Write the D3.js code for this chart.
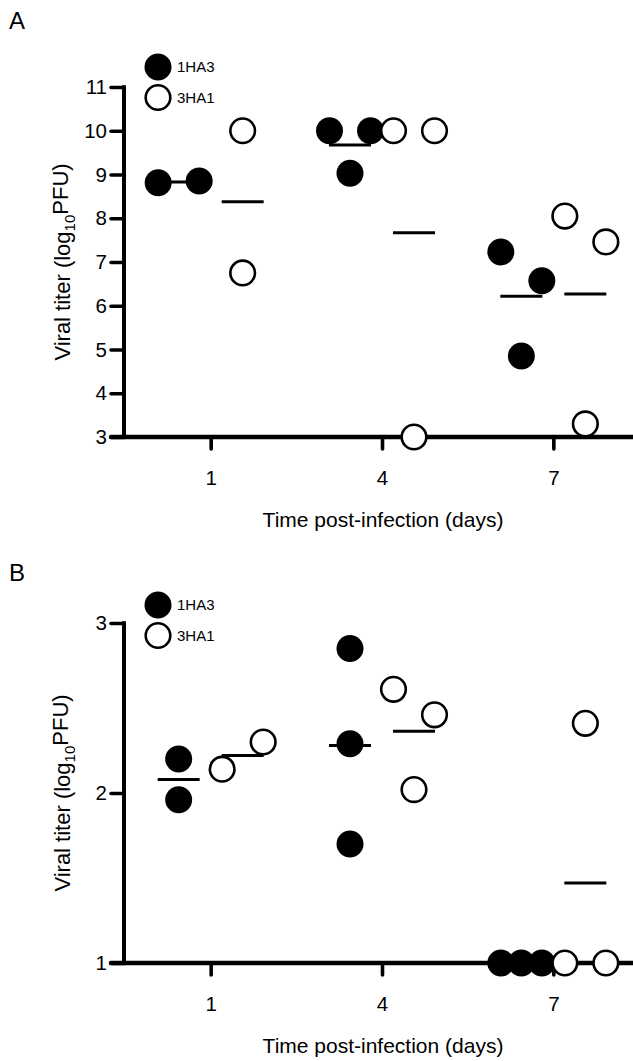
<!DOCTYPE html>
<html>
<head>
<meta charset="utf-8">
<script src="https://cdn.jsdelivr.net/npm/d3@7"></script>
<style>
    body { margin: 0; background: #fff; }
    svg { display: block; font-family: "Liberation Sans", Arial, sans-serif; }
</style>
</head>
<body>
<svg id="chart" width="633" height="1061"></svg>
<script>
let days = [1, 4, 7];
let seriesNames = ["1HA3", "3HA1"];

// panel A, one inner list per day
let titerA_1HA3 = [[8.81, 8.85], [10.0, 10.0, 9.03], [7.23, 6.57, 4.85]];
let titerA_3HA1 = [[10.0, 6.75], [10.0, 10.0, 3.0], [8.05, 7.46, 3.3]];
let ticksA = [3, 4, 5, 6, 7, 8, 9, 10, 11];

// panel B
let titerB_1HA3 = [[2.20, 1.96], [2.85, 2.29, 1.70], [1.0, 1.0, 1.0]];
let titerB_3HA1 = [[2.14, 2.30], [2.61, 2.46, 2.02], [1.0, 1.0, 2.41]];
let ticksB = [1, 2, 3];

let svg = d3.select('#chart');

let rFilled = 13.5;
let rOpen = 12.3;
let spread = 20.5;

// spread points sideways when they sit too close vertically
let placePoints = (values, yScale) => {
    let pts = values.map((v, i) => ({v: v, i: i, y: yScale(v), dx: 0}));
    let sorted = pts.slice().sort((a, b) => a.y - b.y);
    let groups = [];
    sorted.forEach(p => {
        let last = groups[groups.length - 1];
        if (last && p.y - last[last.length - 1].y < rFilled * 2.4) last.push(p);
        else groups.push([p]);
    });
    groups.forEach(g => {
        g.sort((a, b) => a.i - b.i);
        let step = g.length % 2 === 0 ? spread * 2 : spread;
        g.forEach((p, k) => { p.dx = (k - (g.length - 1) / 2) * step; });
    });
    return pts;
};

let drawPanel = (cfg) => {
    let g = svg.append("g");

    let xScale = d3.scalePoint().domain(days).range([125, 639]).padding(0.5);
    let groupScale = d3.scalePoint().domain(seriesNames).range([-32, 32]);
    let yScale = d3.scaleLinear().domain(cfg.domain).range([cfg.bottom, cfg.top]);

    // axes
    let xAxis = d3.axisBottom(xScale).tickSizeInner(12).tickSizeOuter(0).tickPadding(21);
    let yAxis = d3.axisLeft(yScale).tickValues(cfg.ticks).tickSizeInner(14).tickSizeOuter(0).tickPadding(4)
        .tickFormat(d3.format("d"));

    let gx = g.append("g")
        .attr("transform", "translate(" + [0, cfg.bottom] + ")")
        .call(xAxis);
    let gy = g.append("g")
        .attr("transform", "translate(" + [125, 0] + ")")
        .call(yAxis);

    [gx, gy].forEach(a => {
        a.attr("font-family", null).attr("font-size", 20.5);
        a.select(".domain").remove();
        a.selectAll(".tick line").attr("stroke", "#000").attr("stroke-width", 3.6).attr("stroke-linecap", "round");
        a.selectAll(".tick text").attr("fill", "#000");
    });
    gy.selectAll(".tick line").attr("x1", -1);

    g.append("line")
        .attr("x1", 124).attr("x2", 124)
        .attr("y1", cfg.top - 1.8).attr("y2", cfg.bottom)
        .attr("stroke", "#000").attr("stroke-width", 4);
    g.append("line")
        .attr("x1", 111).attr("x2", 633)
        .attr("y1", cfg.bottom).attr("y2", cfg.bottom)
        .attr("stroke", "#000").attr("stroke-width", 4.5).attr("stroke-linecap", "round");

    // axis titles
    g.append("text")
        .attr("x", 383).attr("y", cfg.bottom + 90)
        .style("text-anchor", "middle")
        .style("font-size", "21px")
        .text("Time post-infection (days)");

    let yt = g.append("text")
        .attr("transform", "translate(" + [70, (cfg.top + cfg.bottom) / 2] + "), rotate(-90)")
        .style("text-anchor", "middle")
        .style("font-size", "22px");
    yt.append("tspan").text("Viral titer (log");
    yt.append("tspan").attr("dy", "0.3em").style("font-size", "15px").text("10");
    yt.append("tspan").attr("dy", "-0.3em").text("PFU)");

    g.append("text")
        .attr("x", 9).attr("y", cfg.labelY)
        .style("font-size", "24px")
        .text(cfg.label);

    // legend
    let leg = g.selectAll(".legend")
        .data(seriesNames)
        .enter()
        .append("g")
        .attr("transform", (d, i) => "translate(" + [158, cfg.legendY + i * 30.5] + ")");
    leg.append("circle")
        .attr("r", (d, i) => i === 0 ? rFilled : rOpen)
        .attr("fill", (d, i) => i === 0 ? "#000" : "#fff")
        .attr("stroke", "#000")
        .attr("stroke-width", (d, i) => i === 0 ? 0 : 2.6);
    leg.append("text")
        .attr("x", 19).attr("y", 5)
        .style("font-size", "15px")
        .text(d => d);

    // mean bars then points
    cfg.series.forEach((perDay, s) => {
        let name = seriesNames[s];
        perDay.forEach((values, k) => {
            let cx = xScale(days[k]) + groupScale(name);
            g.append("line")
                .attr("x1", cx - 21).attr("x2", cx + 21)
                .attr("y1", yScale(d3.mean(values))).attr("y2", yScale(d3.mean(values)))
                .attr("stroke", "#000").attr("stroke-width", 3);
        });
    });

    cfg.series.forEach((perDay, s) => {
        let name = seriesNames[s];
        perDay.forEach((values, k) => {
            let cx = xScale(days[k]) + groupScale(name);
            g.selectAll(null)
                .data(placePoints(values, yScale))
                .enter()
                .append("circle")
                .attr("cx", d => cx + d.dx)
                .attr("cy", d => d.y)
                .attr("r", s === 0 ? rFilled : rOpen)
                .attr("fill", s === 0 ? "#000" : "#fff")
                .attr("stroke", "#000")
                .attr("stroke-width", s === 0 ? 0 : 2.6);
        });
    });
};

drawPanel({label: "A", labelY: 29, legendY: 67, top: 87, bottom: 437, domain: [3, 11], ticks: ticksA,
    series: [titerA_1HA3, titerA_3HA1]});
drawPanel({label: "B", labelY: 581, legendY: 605, top: 623, bottom: 963, domain: [1, 3], ticks: ticksB,
    series: [titerB_1HA3, titerB_3HA1]});
</script>
</body>
</html>
